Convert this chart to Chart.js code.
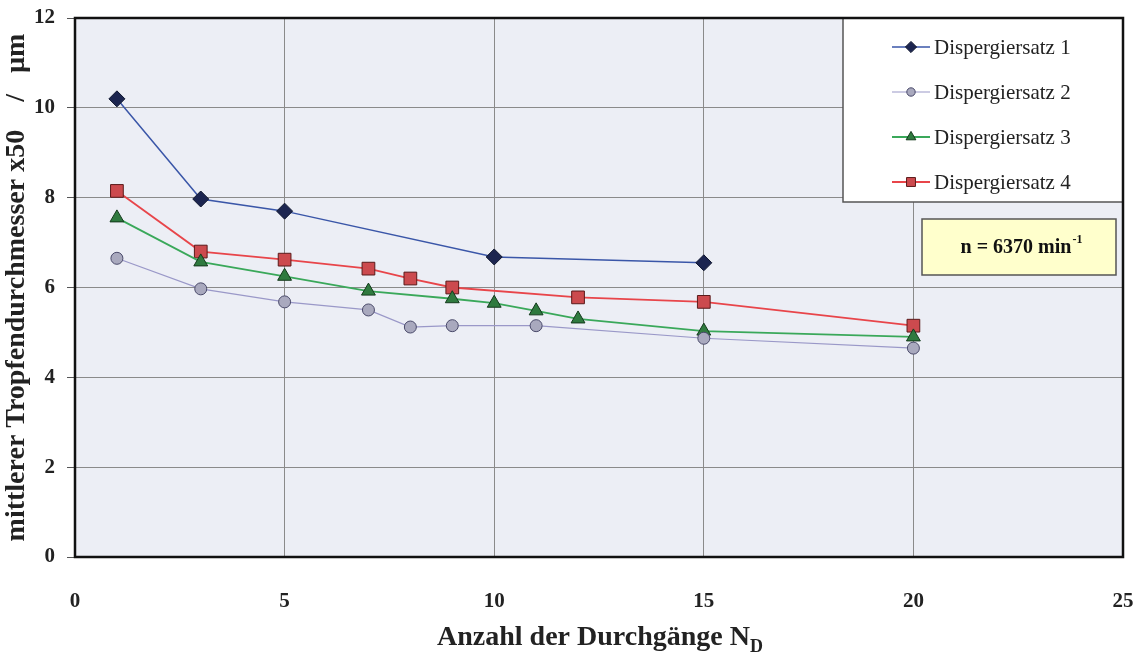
<!DOCTYPE html>
<html>
<head>
<meta charset="utf-8">
<script src="https://cdn.jsdelivr.net/npm/chart.js@4.4.0/dist/chart.umd.min.js"></script>
<style>
  html, body { margin: 0; padding: 0; background: #fff; }
  #wrap { width: 1140px; height: 657px; }
</style>
</head>
<body>
<div id="wrap"><canvas id="chart" width="1140" height="657"></canvas></div>
<script>
const seriesNames = ['Dispergiersatz 1', 'Dispergiersatz 2', 'Dispergiersatz 3', 'Dispergiersatz 4'];

const x1 = [1, 3, 5, 10, 15];
const y1 = [10.2, 7.97, 7.7, 6.68, 6.55];

const x2 = [1, 3, 5, 7, 8, 9, 11, 15, 20];
const y2 = [6.65, 5.97, 5.68, 5.5, 5.12, 5.15, 5.15, 4.87, 4.65];

const x3 = [1, 3, 5, 7, 9, 10, 11, 12, 15, 20];
const y3 = [7.55, 6.57, 6.25, 5.92, 5.75, 5.65, 5.48, 5.3, 5.03, 4.9];

const x4 = [1, 3, 5, 7, 8, 9, 12, 15, 20];
const y4 = [8.15, 6.8, 6.62, 6.42, 6.2, 6.0, 5.78, 5.68, 5.15];

const xTicks = [0, 5, 10, 15, 20, 25];
const yTicks = [0, 2, 4, 6, 8, 10, 12];

const serif = '"Liberation Serif", "Times New Roman", serif';

function pts(xs, ys) {
    return xs.map((x, i) => ({ x: x, y: ys[i] }));
}

const styles = [
    { line: '#3a56a8', fill: '#1c2550', border: '#111830', shape: 'rectRot', r: 8, w: 1.5 },
    { line: '#9a98c8', fill: '#a9a9be', border: '#4a4a6a', shape: 'circle', r: 6, w: 1.2 },
    { line: '#3aa85a', fill: '#2f7a3f', border: '#143a1c', shape: 'triangle', r: 8, w: 1.8 },
    { line: '#e8454a', fill: '#cc4a4e', border: '#5a1a1a', shape: 'rect', r: 9, w: 1.8 }
];

const allX = [x1, x2, x3, x4];
const allY = [y1, y2, y3, y4];

const datasets = seriesNames.map((name, i) => ({
    label: name,
    data: pts(allX[i], allY[i]),
    borderColor: styles[i].line,
    borderWidth: styles[i].w,
    backgroundColor: styles[i].fill,
    pointBackgroundColor: styles[i].fill,
    pointBorderColor: styles[i].border,
    pointBorderWidth: 1,
    pointStyle: styles[i].shape,
    pointRadius: styles[i].r,
    tension: 0
}));

// plot background
const bgPlugin = {
    id: 'plotBg',
    beforeDraw(chart) {
        const a = chart.chartArea, ctx = chart.ctx;
        ctx.save();
        ctx.fillStyle = '#eceef5';
        ctx.fillRect(a.left, a.top, a.right - a.left, a.bottom - a.top);
        ctx.restore();
    }
};

// border, legend box, annotation, x title with subscript
const overlayPlugin = {
    id: 'overlay',
    afterDraw(chart) {
        const a = chart.chartArea, ctx = chart.ctx;
        ctx.save();

        // legend box
        const lx = 843, ly = a.top, lw = a.right - 843, lh = 184;
        ctx.fillStyle = '#ffffff';
        ctx.fillRect(lx, ly, lw, lh);
        ctx.strokeStyle = '#555';
        ctx.lineWidth = 1.5;
        ctx.strokeRect(lx, ly, lw, lh);
        ctx.font = '21px ' + serif;
        ctx.textBaseline = 'middle';
        ctx.textAlign = 'left';
        seriesNames.forEach((name, i) => {
            const y = 47 + i * 45;
            const s = styles[i];
            ctx.strokeStyle = s.line;
            ctx.lineWidth = s.w;
            ctx.beginPath();
            ctx.moveTo(892, y);
            ctx.lineTo(930, y);
            ctx.stroke();
            ctx.fillStyle = s.fill;
            ctx.strokeStyle = s.border;
            ctx.lineWidth = 1;
            Chart.helpers.drawPoint(ctx, { pointStyle: s.shape, radius: s.r * 0.7, borderWidth: 1 }, 911, y);
            ctx.fillStyle = '#222';
            ctx.fillText(name, 934, y + 1);
        });

        // annotation box
        ctx.fillStyle = '#ffffcc';
        ctx.fillRect(922, 219, 194, 56);
        ctx.strokeStyle = '#555';
        ctx.lineWidth = 1.5;
        ctx.strokeRect(922, 219, 194, 56);
        ctx.fillStyle = '#111';
        ctx.font = 'bold 20px ' + serif;
        const main = 'n = 6370 min';
        const wMain = ctx.measureText(main).width;
        ctx.font = 'bold 12px ' + serif;
        const wSup = ctx.measureText('-1').width;
        const sx = 1021 - (wMain + wSup) / 2;
        ctx.font = 'bold 20px ' + serif;
        ctx.fillText(main, sx, 248);
        ctx.font = 'bold 12px ' + serif;
        ctx.fillText('-1', sx + wMain + 1, 240);

        // plot frame
        ctx.strokeStyle = '#111';
        ctx.lineWidth = 2.5;
        ctx.strokeRect(a.left, a.top, a.right - a.left, a.bottom - a.top);

        // x axis title
        ctx.fillStyle = '#222';
        ctx.textAlign = 'left';
        ctx.font = 'bold 28px ' + serif;
        const t = 'Anzahl der Durchgänge N';
        const wt = ctx.measureText(t).width;
        ctx.font = 'bold 18px ' + serif;
        const wd = ctx.measureText('D').width;
        const tx = 600 - (wt + wd) / 2;
        ctx.font = 'bold 28px ' + serif;
        ctx.fillText(t, tx, 638);
        ctx.font = 'bold 18px ' + serif;
        ctx.fillText('D', tx + wt, 647);
        ctx.restore();
    }
};

new Chart(document.getElementById('chart'), {
    type: 'line',
    data: { datasets: datasets },
    plugins: [bgPlugin, overlayPlugin],
    options: {
        responsive: false,
        animation: false,
        layout: { padding: { top: 18, right: 17, left: 0, bottom: 0 } },
        plugins: {
            legend: { display: false },
            tooltip: { enabled: false }
        },
        scales: {
            x: {
                type: 'linear',
                min: 0,
                max: 25,
                afterBuildTicks: s => { s.ticks = xTicks.map(v => ({ value: v })); },
                afterFit: s => { s.height = 100; s.paddingLeft = 0; s.paddingRight = 0; },
                grid: { color: '#8a8a8a', lineWidth: 1, drawTicks: false },
                border: { display: false },
                ticks: {
                    padding: 32,
                    color: '#222',
                    font: { family: serif, size: 21, weight: 'bold' },
                    maxRotation: 0
                }
            },
            y: {
                type: 'linear',
                min: 0,
                max: 12,
                afterBuildTicks: s => { s.ticks = yTicks.map(v => ({ value: v })); },
                afterFit: s => { s.width = 75; s.paddingTop = 0; s.paddingBottom = 0; },
                grid: { color: '#8a8a8a', lineWidth: 1, drawTicks: true, tickLength: 8, tickColor: '#555' },
                border: { display: false },
                ticks: {
                    padding: 12,
                    color: '#222',
                    font: { family: serif, size: 21, weight: 'bold' }
                },
                title: {
                    display: true,
                    text: 'mittlerer Tropfendurchmesser x50    /   µm',
                    color: '#222',
                    font: { family: serif, size: 28, weight: 'bold' },
                    padding: { top: 0, bottom: 1 }
                }
            }
        }
    }
});
</script>
</body>
</html>
